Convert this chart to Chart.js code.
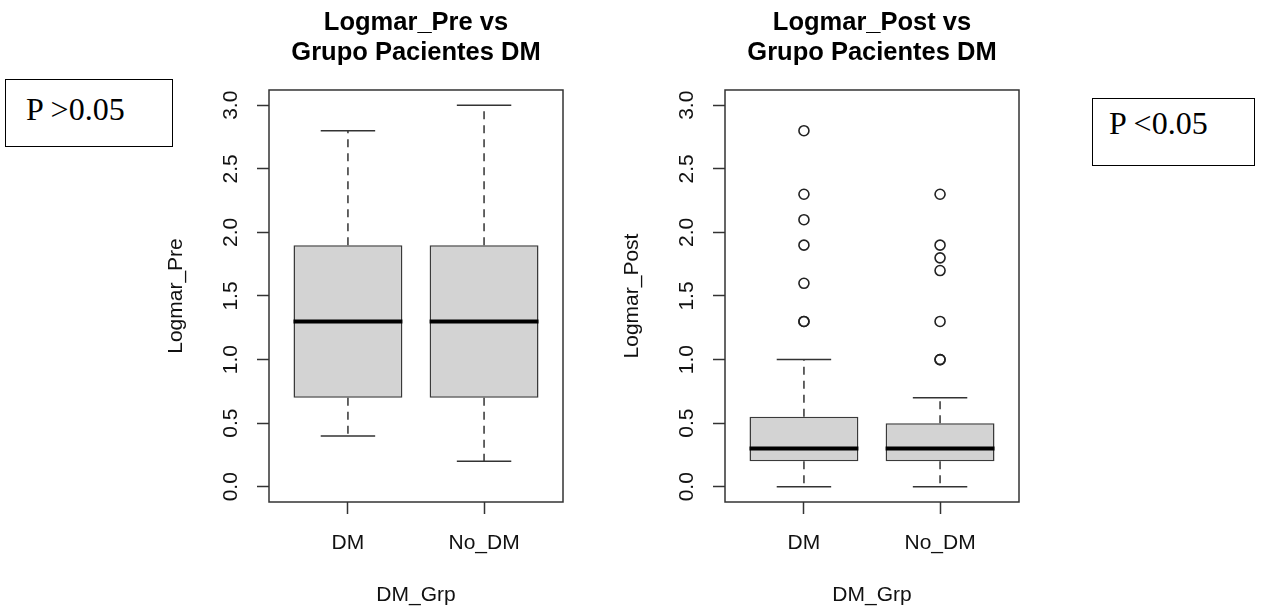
<!DOCTYPE html>
<html>
<head>
<meta charset="utf-8">
<script src="https://cdn.jsdelivr.net/npm/chart.js@4.4.0/dist/chart.umd.min.js"></script>
<style>
  body { margin: 0; background: #fff; }
  #lienzo { position: relative; width: 1262px; height: 611px; overflow: hidden; }
  .panel { position: absolute; top: 0; width: 456px; height: 611px; }
  .caja { position: absolute; border: 1px solid #000; box-sizing: border-box; }
  .pval { position: absolute; font-family: "Liberation Serif", "Times New Roman", serif; font-size: 32px; line-height: 32px; color: #000; white-space: nowrap; }
</style>
</head>
<body>
<div id="lienzo">
  <div class="caja" style="left:5px;top:79px;width:168px;height:68px"></div>
  <span class="pval" style="left:26px;top:93px">P &gt;0.05</span>
  <div class="panel" style="left:130px"><canvas id="graficoPre" width="456" height="611"></canvas></div>
  <div class="panel" style="left:586px"><canvas id="graficoPost" width="456" height="611"></canvas></div>
  <div class="caja" style="left:1092px;top:98px;width:163px;height:68px"></div>
  <span class="pval" style="left:1109px;top:107px">P &lt;0.05</span>
</div>
<script>
const grupos = ["DM", "No_DM"];
const ticksY = [0, 0.5, 1, 1.5, 2, 2.5, 3];

// Logmar_Pre
const preMin = [0.4, 0.2];
const preQ1 = [0.7, 0.7];
const preMediana = [1.3, 1.3];
const preQ3 = [1.9, 1.9];
const preMax = [2.8, 3.0];
const preAtipicos = [[], []];

// Logmar_Post
const postMin = [0.0, 0.0];
const postQ1 = [0.2, 0.2];
const postMediana = [0.3, 0.3];
const postQ3 = [0.55, 0.5];
const postMax = [1.0, 0.7];
const postAtipicos = [
    [1.3, 1.3, 1.6, 1.9, 2.1, 2.3, 2.8],
    [1.0, 1.0, 1.3, 1.7, 1.8, 1.9, 2.3]
];

Chart.defaults.font.family = '"Liberation Sans", Arial, sans-serif';
Chart.defaults.color = "#111";

// une pares de puntos en una sola serie, con un hueco entre cada par
function segmentos(pares) {
    const datos = [];
    pares.forEach((p, i) => {
        if (i > 0) datos.push({ x: p[0].x, y: null });
        datos.push(p[0], p[1]);
    });
    return datos;
}

const marco = {
    id: "marco",
    afterDatasetsDraw(chart) {
        const { ctx, chartArea: a } = chart;
        ctx.save();
        ctx.strokeStyle = "#333";
        ctx.lineWidth = 1.5;
        ctx.strokeRect(a.left, a.top, a.width, a.height);
        ctx.restore();
    }
};

function crearBoxplot(canvas, titulo, ejeY, d) {

    const medio = 0.4;   // mitad del ancho de la caja
    const tope = 0.2;    // mitad del ancho del tope

    const cajas = grupos.map((g, i) => ({ x: i + 1, y: [d.q1[i], d.q3[i]] }));

    const medianas = segmentos(grupos.map((g, i) => [
        { x: i + 1 - medio, y: d.mediana[i] },
        { x: i + 1 + medio, y: d.mediana[i] }
    ]));

    const bigotes = segmentos(grupos.flatMap((g, i) => [
        [{ x: i + 1, y: d.q3[i] }, { x: i + 1, y: d.max[i] }],
        [{ x: i + 1, y: d.q1[i] }, { x: i + 1, y: d.min[i] }]
    ]));

    const topes = segmentos(grupos.flatMap((g, i) => [
        [{ x: i + 1 - tope, y: d.max[i] }, { x: i + 1 + tope, y: d.max[i] }],
        [{ x: i + 1 - tope, y: d.min[i] }, { x: i + 1 + tope, y: d.min[i] }]
    ]));

    const atipicos = d.atipicos.flatMap((lista, i) => lista.map(v => ({ x: i + 1, y: v })));

    const rejilla = {
        drawOnChartArea: false,
        drawTicks: true,
        tickLength: 12,
        tickColor: "#333",
        tickWidth: 1.5,
        offset: false
    };

    return new Chart(canvas, {
        type: "scatter",
        data: {
            datasets: [
                {
                    type: "line",
                    label: "Mediana",
                    data: medianas,
                    borderColor: "#000",
                    borderWidth: 4,
                    borderCapStyle: "butt",
                    pointRadius: 0,
                    showLine: true,
                    spanGaps: false,
                    order: 0
                },
                {
                    type: "scatter",
                    label: "Atípicos",
                    data: atipicos,
                    pointRadius: 5,
                    pointBorderWidth: 1.6,
                    pointBorderColor: "#222",
                    pointBackgroundColor: "rgba(0,0,0,0)",
                    order: 0
                },
                {
                    type: "line",
                    label: "Topes",
                    data: topes,
                    borderColor: "#333",
                    borderWidth: 1.5,
                    borderCapStyle: "butt",
                    pointRadius: 0,
                    showLine: true,
                    spanGaps: false,
                    order: 1
                },
                {
                    type: "line",
                    label: "Bigotes",
                    data: bigotes,
                    borderColor: "#333",
                    borderWidth: 1.5,
                    borderDash: [8, 6],
                    borderCapStyle: "butt",
                    pointRadius: 0,
                    showLine: true,
                    spanGaps: false,
                    order: 2
                },
                {
                    type: "bar",
                    label: "Caja",
                    data: cajas,
                    backgroundColor: "#d3d3d3",
                    borderColor: "#3a3a3a",
                    borderWidth: 1.5,
                    borderSkipped: false,
                    barPercentage: 0.8,
                    categoryPercentage: 1,
                    order: 3
                }
            ]
        },
        options: {
            responsive: false,
            devicePixelRatio: 1,
            animation: false,
            events: [],
            layout: { padding: { left: 0, right: 23, top: 0, bottom: 0 } },
            plugins: {
                legend: { display: false },
                tooltip: { enabled: false },
                title: {
                    display: true,
                    text: titulo,
                    fullSize: false,
                    color: "#000",
                    font: { size: 25.5, weight: "bold", lineHeight: 1.145 },
                    padding: { top: 8.7, bottom: 22.9 }
                }
            },
            scales: {
                x: {
                    type: "linear",
                    min: 0.42,
                    max: 2.58,
                    offset: false,
                    afterBuildTicks: eje => { eje.ticks = grupos.map((g, i) => ({ value: i + 1 })); },
                    afterFit: eje => { eje.height = 109; },
                    ticks: {
                        callback: v => grupos[v - 1] ?? "",
                        padding: 16.5,
                        maxRotation: 0,
                        autoSkip: false,
                        font: { size: 21 }
                    },
                    grid: rejilla,
                    border: { display: false },
                    title: { display: true, text: "DM_Grp", font: { size: 21 }, padding: { top: 0, bottom: 3.4 } }
                },
                y: {
                    type: "linear",
                    min: -0.12,
                    max: 3.12,
                    afterBuildTicks: eje => { eje.ticks = ticksY.map(v => ({ value: v })); },
                    afterFit: eje => { eje.width = 139; },
                    ticks: {
                        callback: v => v.toFixed(1),
                        padding: 11.4,
                        minRotation: 90,
                        maxRotation: 90,
                        crossAlign: "center",
                        font: { size: 21 }
                    },
                    grid: rejilla,
                    border: { display: false },
                    title: { display: true, text: ejeY, font: { size: 21 }, padding: { top: 33.4, bottom: 0 } }
                }
            }
        },
        plugins: [marco]
    });
}

crearBoxplot(document.getElementById("graficoPre"), ["Logmar_Pre vs", "Grupo Pacientes DM"], "Logmar_Pre", {
    min: preMin, q1: preQ1, mediana: preMediana, q3: preQ3, max: preMax, atipicos: preAtipicos
});

crearBoxplot(document.getElementById("graficoPost"), ["Logmar_Post vs", "Grupo Pacientes DM"], "Logmar_Post", {
    min: postMin, q1: postQ1, mediana: postMediana, q3: postQ3, max: postMax, atipicos: postAtipicos
});
</script>
</body>
</html>
